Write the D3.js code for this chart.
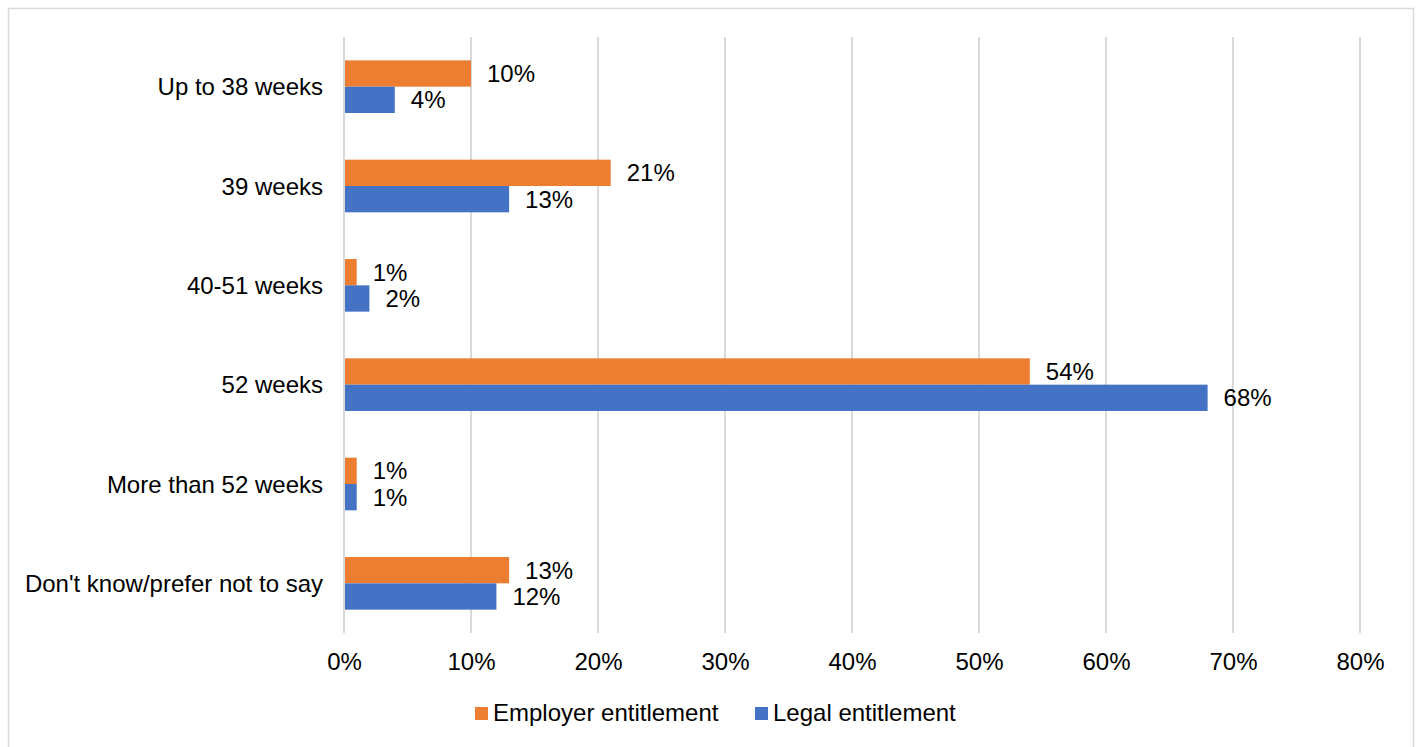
<!DOCTYPE html>
<html>
<head>
<meta charset="utf-8">
<script src="https://cdn.jsdelivr.net/npm/d3@7/dist/d3.min.js"></script>
<style>
  html, body { margin: 0; padding: 0; background: #fff; }
  svg { display: block; }
  text { font-family: "Liberation Sans", Arial, sans-serif; fill: #000; }
</style>
</head>
<body>
<svg id="chart" width="1420" height="747"></svg>
<script>
const categories = ["Up to 38 weeks", "39 weeks", "40-51 weeks", "52 weeks", "More than 52 weeks", "Don't know/prefer not to say"];
const seriesNames = ["Employer entitlement", "Legal entitlement"];
const employerValues = [10, 21, 1, 54, 1, 13];
const legalValues = [4, 13, 2, 68, 1, 12];
const xTicks = [0, 10, 20, 30, 40, 50, 60, 70, 80];
const colors = ["#ED7D31", "#4472C4"];

const svg = d3.select("#chart");
const plotLeft = 344, plotRight = 1360, plotTop = 37, plotBottom = 633;

svg.append("rect").attr("x", 8.5).attr("y", 8.5).attr("width", 1405).attr("height", 760)
  .attr("fill", "#fff").attr("stroke", "#d9d9d9").attr("stroke-width", 1.5);

const x = d3.scaleLinear().domain([0, 80]).range([plotLeft, plotRight]);
const y = d3.scaleBand().domain(categories).range([plotTop, plotBottom]).paddingInner(0.47).paddingOuter(0.235);
const ySub = d3.scaleBand().domain(seriesNames).range([0, y.bandwidth()]);

// gridlines
svg.append("g").selectAll("line").data(xTicks).join("line")
  .attr("x1", d => x(d)).attr("x2", d => x(d))
  .attr("y1", plotTop).attr("y2", plotBottom)
  .attr("stroke", "#d9d9d9").attr("stroke-width", 2);

// x tick labels
const xAxis = d3.axisBottom(x).tickValues(xTicks).tickFormat(d => d + "%").tickSize(0).tickPadding(0);
const gx = svg.append("g").attr("transform", `translate(0,${plotBottom})`).call(xAxis);
gx.select(".domain").remove();
gx.selectAll("text").attr("font-size", 24).attr("y", 37).attr("dy", null)
  .style("font-family", '"Liberation Sans", Arial, sans-serif').attr("fill", "#000");

// y labels
const yAxis = d3.axisLeft(y).tickSize(0).tickPadding(21);
const gy = svg.append("g").attr("transform", `translate(${plotLeft},0)`).call(yAxis);
gy.select(".domain").remove();
gy.selectAll("text").attr("font-size", 24).attr("dy", "0.36em")
  .style("font-family", '"Liberation Sans", Arial, sans-serif').attr("fill", "#000");

const data = categories.map((c, i) => ({ cat: c, vals: [
  { s: seriesNames[0], v: employerValues[i], c: colors[0] },
  { s: seriesNames[1], v: legalValues[i], c: colors[1] }
]}));

const groups = svg.append("g").selectAll("g").data(data).join("g")
  .attr("transform", d => `translate(0,${y(d.cat)})`);

groups.selectAll("rect").data(d => d.vals).join("rect")
  .attr("x", x(0) + 1)
  .attr("y", d => ySub(d.s))
  .attr("width", d => x(d.v) - x(0) - 1)
  .attr("height", ySub.bandwidth())
  .attr("fill", d => d.c);

groups.selectAll("text.val").data(d => d.vals).join("text")
  .attr("class", "val")
  .attr("x", d => x(d.v) + 16)
  .attr("y", d => ySub(d.s) + ySub.bandwidth() / 2)
  .attr("dy", "0.36em")
  .attr("font-size", 24)
  .text(d => d.v + "%");

// legend
const legendItems = [
  { name: seriesNames[0], c: colors[0], lx: 475 },
  { name: seriesNames[1], c: colors[1], lx: 755 }
];
const lg = svg.append("g").selectAll("g").data(legendItems).join("g")
  .attr("transform", d => `translate(${d.lx},707)`);
lg.append("rect").attr("width", 13).attr("height", 13).attr("fill", d => d.c);
lg.append("text").attr("x", 18).attr("y", 14).attr("font-size", 24).text(d => d.name);
</script>
</body>
</html>
